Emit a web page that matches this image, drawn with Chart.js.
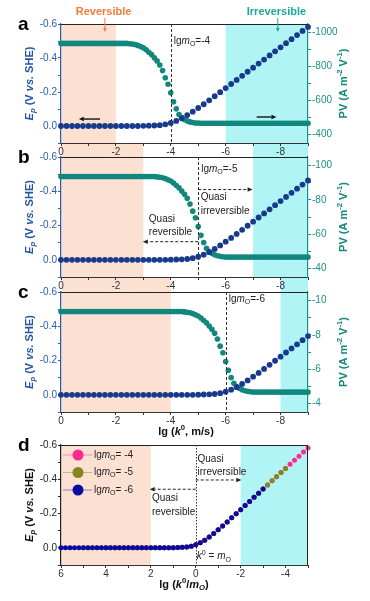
<!DOCTYPE html>
<html>
<head>
<meta charset="utf-8">
<script src="https://cdn.jsdelivr.net/npm/chart.js@4.4.0/dist/chart.umd.min.js"></script>
<style>
body { margin: 0; background: #fff; }
#wrap { position: relative; width: 370px; height: 601px; overflow: hidden; }
canvas { position: absolute; left: 0; }
</style>
</head>
<body>
<div id="wrap">
<canvas id="pa" width="370" height="163" style="top:0px;z-index:4"></canvas>
<canvas id="pb" width="370" height="157" style="top:140px;z-index:3"></canvas>
<canvas id="pc" width="370" height="171" style="top:275px;z-index:2"></canvas>
<canvas id="pd" width="370" height="166" style="top:435px;z-index:1"></canvas>
</div>
<script>
// lg k0 grid for Ep points (step 0.2) and PV points (step 0.1)
const lgK = [0, -0.2, -0.4, -0.6, -0.8, -1, -1.2, -1.4, -1.6, -1.8,
  -2, -2.2, -2.4, -2.6, -2.8, -3, -3.2, -3.4, -3.6, -3.8,
  -4, -4.2, -4.4, -4.6, -4.8, -5, -5.2, -5.4, -5.6, -5.8,
  -6, -6.2, -6.4, -6.6, -6.8, -7, -7.2, -7.4, -7.6, -7.8,
  -8, -8.2, -8.4, -8.6, -8.8, -9];
const lgKFine = [0, -0.1, -0.2, -0.3, -0.4, -0.5, -0.6, -0.7, -0.8, -0.9,
  -1, -1.1, -1.2, -1.3, -1.4, -1.5, -1.6, -1.7, -1.8, -1.9,
  -2, -2.1, -2.2, -2.3, -2.4, -2.5, -2.6, -2.7, -2.8, -2.9,
  -3, -3.1, -3.2, -3.3, -3.4, -3.5, -3.6, -3.7, -3.8, -3.9,
  -4, -4.1, -4.2, -4.3, -4.4, -4.5, -4.6, -4.7, -4.8, -4.9,
  -5, -5.1, -5.2, -5.3, -5.4, -5.5, -5.6, -5.7, -5.8, -5.9,
  -6, -6.1, -6.2, -6.3, -6.4, -6.5, -6.6, -6.7, -6.8, -6.9,
  -7, -7.1, -7.2, -7.3, -7.4, -7.5, -7.6, -7.7, -7.8, -7.9,
  -8, -8.1, -8.2, -8.3, -8.4, -8.5, -8.6, -8.7, -8.8, -8.9, -9];
const lgMO = [-4, -5, -6];

// Ep (V vs. SHE)
const epA = [0, 0, 0, 0, 0, 0, 0, 0, 0, 0, 0, 0, 0, 0, 0,
  -0.001, -0.002, -0.003, -0.005, -0.010, -0.018, -0.030, -0.045, -0.064, -0.084,
  -0.106, -0.128, -0.151, -0.175, -0.199, -0.223, -0.247, -0.271, -0.295, -0.319,
  -0.343, -0.367, -0.391, -0.415, -0.439, -0.463, -0.487, -0.511, -0.535, -0.559, -0.583];
const epB = [0, 0, 0, 0, 0, 0, 0, 0, 0, 0, 0, 0, 0, 0, 0, 0, 0, 0, 0, 0,
  -0.001, -0.002, -0.003, -0.005, -0.010, -0.018, -0.030, -0.045, -0.064, -0.084,
  -0.106, -0.128, -0.151, -0.175, -0.199, -0.223, -0.247, -0.271, -0.295, -0.319,
  -0.343, -0.367, -0.391, -0.415, -0.439, -0.463];
const epC = [0, 0, 0, 0, 0, 0, 0, 0, 0, 0, 0, 0, 0, 0, 0, 0, 0, 0, 0, 0, 0, 0, 0, 0, 0,
  -0.001, -0.002, -0.003, -0.005, -0.010, -0.018, -0.030, -0.045, -0.064, -0.084,
  -0.106, -0.128, -0.151, -0.175, -0.199, -0.223, -0.247, -0.271, -0.295, -0.319,
  -0.343];

// PV (A m-2 V-1)
const pvA = [-936, -936, -936, -936, -936, -936, -936, -936, -936, -936,
  -936, -936, -936, -936, -936, -936, -936, -936, -936, -936,
  -936, -936, -936, -936, -936,
  -934, -932, -929, -924, -917, -910, -898, -884, -870, -851,
  -833, -809, -776, -734, -696, -645, -593, -551, -518, -499,
  -488, -480, -474, -471, -468, -467, -466,
  -466, -466, -466, -466, -466, -466, -466, -466, -466, -466,
  -466, -466, -466, -466, -466, -466, -466, -466, -466, -466,
  -466, -466, -466, -466, -466, -466, -466, -466, -466, -466,
  -466, -466, -466, -466, -466, -466, -466, -466, -466];
const pvB = [-93.6, -93.6, -93.6, -93.6, -93.6, -93.6, -93.6, -93.6, -93.6, -93.6,
  -93.6, -93.6, -93.6, -93.6, -93.6, -93.6, -93.6, -93.6, -93.6, -93.6,
  -93.6, -93.6, -93.6, -93.6, -93.6, -93.6, -93.6, -93.6, -93.6, -93.6,
  -93.6, -93.6, -93.6, -93.6, -93.6,
  -93.4, -93.2, -92.9, -92.4, -91.7, -91.0, -89.8, -88.4, -87.0, -85.1,
  -83.3, -80.9, -77.6, -73.4, -69.6, -64.5, -59.3, -55.1, -51.8, -49.9,
  -48.8, -48.0, -47.4, -47.1, -46.8, -46.7, -46.6,
  -46.6, -46.6, -46.6, -46.6, -46.6, -46.6, -46.6, -46.6, -46.6, -46.6,
  -46.6, -46.6, -46.6, -46.6, -46.6, -46.6, -46.6, -46.6, -46.6, -46.6,
  -46.6, -46.6, -46.6, -46.6, -46.6, -46.6, -46.6, -46.6, -46.6];
const pvC = [-9.36, -9.36, -9.36, -9.36, -9.36, -9.36, -9.36, -9.36, -9.36, -9.36,
  -9.36, -9.36, -9.36, -9.36, -9.36, -9.36, -9.36, -9.36, -9.36, -9.36,
  -9.36, -9.36, -9.36, -9.36, -9.36, -9.36, -9.36, -9.36, -9.36, -9.36,
  -9.36, -9.36, -9.36, -9.36, -9.36, -9.36, -9.36, -9.36, -9.36, -9.36,
  -9.36, -9.36, -9.36, -9.36, -9.36,
  -9.34, -9.32, -9.29, -9.24, -9.17, -9.10, -8.98, -8.84, -8.70, -8.51,
  -8.33, -8.09, -7.76, -7.34, -6.96, -6.45, -5.93, -5.51, -5.18, -4.99,
  -4.88, -4.80, -4.74, -4.71, -4.68, -4.67, -4.66,
  -4.66, -4.66, -4.66, -4.66, -4.66, -4.66, -4.66, -4.66, -4.66, -4.66,
  -4.66, -4.66, -4.66, -4.66, -4.66, -4.66, -4.66, -4.66, -4.66];

// axis ticks
const epTicks = [-0.6, -0.5, -0.4, -0.3, -0.2, -0.1, 0, 0.1];
const kTicks = [0, -1, -2, -3, -4, -5, -6, -7, -8, -9];
const ratioTicks = [6, 5, 4, 3, 2, 1, 0, -1, -2, -3, -4, -5];
const pvTicksA = [-1000, -900, -800, -700, -600, -500, -400];
const pvTicksB = [-100, -90, -80, -70, -60, -50, -40];
const pvTicksC = [-10, -9, -8, -7, -6, -5, -4];

const FONT = '"Liberation Sans", Arial, sans-serif';
Chart.defaults.font.family = FONT;

const NAVY = '#173a8c', TEAL = '#11877d';
const AXBLUE = '#2a5caf', AXTEAL = '#1a9187';
const PEACH = '#fce1d3', CYAN = '#b0f4f6';

function rich(ctx, parts, x, y, size, color, align) {
  let w = 0;
  const m = parts.map(p => {
    const f = p[1] || '';
    const small = f.includes('d') || f.includes('u');
    const sz = small ? size * 0.7 : size;
    const font = (f.includes('I') ? 'italic ' : '') + (f.includes('B') ? 'bold ' : '') + sz + 'px ' + FONT;
    ctx.font = font;
    const pw = ctx.measureText(p[0]).width;
    w += pw;
    return { font, pw, dy: f.includes('d') ? size * 0.3 : f.includes('u') ? -size * 0.38 : 0 };
  });
  let cx = align === 'center' ? x - w / 2 : align === 'right' ? x - w : x;
  ctx.fillStyle = color;
  ctx.textBaseline = 'middle';
  ctx.textAlign = 'left';
  parts.forEach((p, i) => {
    ctx.font = m[i].font;
    ctx.fillText(p[0], cx, y + m[i].dy);
    cx += m[i].pw;
  });
}

function richV(ctx, parts, x, y, size, color) {
  ctx.save();
  ctx.translate(x, y);
  ctx.rotate(-Math.PI / 2);
  rich(ctx, parts, 0, 0, size, color, 'center');
  ctx.restore();
}

function arrow(ctx, x1, y1, x2, y2, color, dash, head, lw) {
  ctx.save();
  ctx.strokeStyle = color;
  ctx.fillStyle = color;
  ctx.lineWidth = lw || 1;
  ctx.setLineDash(dash || []);
  const a = Math.atan2(y2 - y1, x2 - x1);
  const hx = x2 - head * Math.cos(a), hy = y2 - head * Math.sin(a);
  ctx.beginPath();
  ctx.moveTo(x1, y1);
  ctx.lineTo(hx, hy);
  ctx.stroke();
  ctx.setLineDash([]);
  ctx.beginPath();
  ctx.moveTo(x2, y2);
  ctx.lineTo(hx - head * 0.45 * Math.sin(a), hy + head * 0.45 * Math.cos(a));
  ctx.lineTo(hx + head * 0.45 * Math.sin(a), hy - head * 0.45 * Math.cos(a));
  ctx.closePath();
  ctx.fill();
  ctx.restore();
}

function vdash(c, xv, dash) {
  const ctx = c.ctx, a = c.chartArea;
  const px = Math.round(c.scales.x.getPixelForValue(xv)) + 0.5;
  ctx.save();
  ctx.strokeStyle = '#333';
  ctx.lineWidth = 1;
  ctx.setLineDash(dash);
  ctx.beginPath();
  ctx.moveTo(px, a.top);
  ctx.lineTo(px, a.bottom);
  ctx.stroke();
  ctx.restore();
}

function makePanel(o) {
  const leftCol = o.pv ? AXBLUE : '#222';
  const scales = {
    x: {
      type: 'linear', min: o.xMin, max: o.xMax, reverse: true,
      afterBuildTicks: s => { s.ticks = o.xTicks.map(v => ({ value: v })); },
      afterFit: s => { s.height = 20; },
      ticks: {
        color: '#333', font: { size: 10 }, padding: 0, autoSkip: false, maxRotation: 0,
        callback: v => (v % 2 === 0 ? String(v) : '')
      },
      grid: { drawOnChartArea: false, tickLength: 3, color: '#333' },
      border: { color: '#333', width: 1 }
    },
    y: {
      type: 'linear', position: 'left', min: -0.6, max: 0.1, reverse: true,
      afterBuildTicks: s => { s.ticks = epTicks.map(v => ({ value: v })); },
      afterFit: s => { s.width = 61; },
      ticks: {
        color: leftCol, font: { size: 10 }, padding: 1,
        callback: v => { const k = Math.round(v * 10); return (k % 2 === 0 && k <= 0) ? v.toFixed(1) : ''; }
      },
      grid: { drawOnChartArea: false, tickLength: 3, color: leftCol },
      border: { color: leftCol, width: 1.2 }
    }
  };
  if (o.pv) {
    scales.y2 = {
      type: 'linear', position: 'right', min: o.pvMin, max: o.pvMax, reverse: true,
      afterBuildTicks: s => { s.ticks = o.pvTicks.map(v => ({ value: v })); },
      afterFit: s => { s.width = 62; },
      ticks: {
        color: AXTEAL, font: { size: 10 }, padding: 1,
        callback: v => (Math.round(v / o.pvStep) % 2 === 0 ? String(v) : '')
      },
      grid: { drawOnChartArea: false, tickLength: 3, color: AXTEAL },
      border: { color: AXTEAL, width: 1.2 }
    };
  }
  const datasets = o.sets.map(s => ({
    data: s.x.map((x, i) => ({ x: x, y: s.y[i] })),
    yAxisID: s.axis,
    backgroundColor: s.color,
    borderWidth: 0,
    pointRadius: s.r,
    clip: 6
  }));
  new Chart(document.getElementById(o.id), {
    type: 'scatter',
    data: { datasets },
    options: {
      responsive: false, animation: false, events: [],
      layout: { padding: { top: o.padTop, left: 0, right: o.pv ? 0 : 62, bottom: o.padBottom || 0 } },
      scales,
      plugins: { legend: { display: false }, tooltip: { enabled: false } }
    },
    plugins: [{
      id: 'bands',
      beforeDraw(c) {
        const ctx = c.ctx, a = c.chartArea, xs = c.scales.x;
        o.bands.forEach(b => {
          const x1 = xs.getPixelForValue(b[0]), x2 = xs.getPixelForValue(b[1]);
          ctx.fillStyle = b[2];
          ctx.fillRect(Math.min(x1, x2), a.top - (o.bandExt || 0), Math.abs(x2 - x1), a.bottom - a.top + (o.bandExt || 0));
        });
      }
    }, {
      id: 'deco',
      afterDraw(c) {
        const ctx = c.ctx, a = c.chartArea;
        ctx.save();
        ctx.strokeStyle = '#222';
        ctx.lineWidth = 1;
        ctx.beginPath();
        ctx.moveTo(a.left, a.top + 0.5);
        ctx.lineTo(a.right, a.top + 0.5);
        if (!o.pv) { ctx.moveTo(a.right - 0.5, a.top); ctx.lineTo(a.right - 0.5, a.bottom); }
        ctx.stroke();
        ctx.restore();
        const mid = (a.top + a.bottom) / 2;
        richV(ctx, [['E', 'BI'], ['p', 'BId'], [' (V ', 'B'], ['vs.', 'BI'], [' SHE)', 'B']], 30, mid, 11, o.pv ? '#2456a8' : '#111');
        if (o.pv) {
          richV(ctx, [['PV (A m', 'B'], ['-2', 'Bu'], [' V', 'B'], ['-1', 'Bu'], [')', 'B']], 344, mid, 11, '#14897f');
        }
        rich(ctx, [[o.letter, 'B']], 18, a.top + 1, 19, '#000', 'left');
        o.extra(c, ctx, v => c.scales.x.getPixelForValue(v), v => c.scales.y.getPixelForValue(v));
      }
    }]
  });
}

function mLabel(ctx, X, Y, xv, yv, val) {
  rich(ctx, [['lg', ''], ['m', 'I'], ['O', 'd'], ['=' + val, '']], X(xv) + 3, Y(yv), 10, '#222', 'left');
}

makePanel({
  id: 'pa', letter: 'a', padTop: 24, xMin: -9, xMax: 0, xTicks: kTicks,
  pv: true, pvMin: -1050, pvMax: -350, pvTicks: pvTicksA, pvStep: 100,
  bands: [[0, -2, PEACH], [-6, -9, CYAN]],
  sets: [
    { x: lgK, y: epA, color: NAVY, axis: 'y', r: 2.9 },
    { x: lgKFine, y: pvA, color: TEAL, axis: 'y2', r: 2.8 }
  ],
  extra(c, ctx, X, Y) {
    vdash(c, lgMO[0], [3, 2]);
    mLabel(ctx, X, Y, lgMO[0], -0.5, lgMO[0]);
    rich(ctx, [['Reversible', 'B']], X(-1.55), 12, 11, '#f47a3a', 'center');
    rich(ctx, [['Irreversible', 'B']], X(-7.85), 12, 11, '#1aa89c', 'center');
    arrow(ctx, X(-1.6), 18, X(-1.6), 32, '#f47a3a', [], 4, 1);
    arrow(ctx, X(-7.9), 18, X(-7.9), 32, '#1aa89c', [], 4, 1);
    arrow(ctx, X(-1.42), Y(-0.041), X(-0.65), Y(-0.041), '#111', [], 5, 1.4);
    arrow(ctx, X(-7.13), Y(-0.053), X(-7.85), Y(-0.053), '#111', [], 5, 1.4);
  }
});

makePanel({
  id: 'pb', letter: 'b', padTop: 17, bandExt: 13, xMin: -9, xMax: 0, xTicks: kTicks,
  pv: true, pvMin: -105, pvMax: -35, pvTicks: pvTicksB, pvStep: 10,
  bands: [[0, -3, PEACH], [-7, -9, CYAN]],
  sets: [
    { x: lgK, y: epB, color: NAVY, axis: 'y', r: 2.9 },
    { x: lgKFine, y: pvB, color: TEAL, axis: 'y2', r: 2.8 }
  ],
  extra(c, ctx, X, Y) {
    vdash(c, lgMO[1], [3, 2]);
    mLabel(ctx, X, Y, lgMO[1], -0.53, lgMO[1]);
    arrow(ctx, X(-5), Y(-0.41), X(-6.98), Y(-0.41), '#222', [3, 2], 5, 1);
    arrow(ctx, X(-5), Y(-0.106), X(-2.98), Y(-0.106), '#222', [3, 2], 5, 1);
    rich(ctx, [['Quasi', '']], X(-5.09), Y(-0.365), 10, '#222', 'left');
    rich(ctx, [['irreversible', '']], X(-5.09), Y(-0.285), 10, '#222', 'left');
    rich(ctx, [['Quasi', '']], X(-3.2), Y(-0.238), 10, '#222', 'left');
    rich(ctx, [['reversible', '']], X(-3.2), Y(-0.16), 10, '#222', 'left');
  }
});

makePanel({
  id: 'pc', letter: 'c', padTop: 17, padBottom: 14, bandExt: 14, xMin: -9, xMax: 0, xTicks: kTicks,
  pv: true, pvMin: -10.5, pvMax: -3.5, pvTicks: pvTicksC, pvStep: 1,
  bands: [[0, -4, PEACH], [-8, -9, CYAN]],
  sets: [
    { x: lgK, y: epC, color: NAVY, axis: 'y', r: 2.9 },
    { x: lgKFine, y: pvC, color: TEAL, axis: 'y2', r: 2.8 }
  ],
  extra(c, ctx, X, Y) {
    vdash(c, lgMO[2], [3, 2]);
    mLabel(ctx, X, Y, lgMO[2], -0.56, lgMO[2]);
    rich(ctx, [['lg (', 'B'], ['k', 'BI'], ['0', 'Bu'], [', m/s)', 'B']], 186, c.chartArea.bottom + 20, 11, '#111', 'center');
  }
});

const PINK = '#ff2a8c', OLIVE = '#86861c', BLUE = '#0a0aa0';
// the first dataset is painted on top, so lgmO=-6 goes first
makePanel({
  id: 'pd', letter: 'd', padTop: 10, padBottom: 16, xMin: -5, xMax: 6, xTicks: ratioTicks,
  pv: false,
  bands: [[6, 2, PEACH], [-2, -5, CYAN]],
  sets: [
    { x: lgK.map(v => v - lgMO[2]), y: epC, color: BLUE, axis: 'y', r: 2.5 },
    { x: lgK.map(v => v - lgMO[1]), y: epB, color: OLIVE, axis: 'y', r: 2.5 },
    { x: lgK.map(v => v - lgMO[0]), y: epA, color: PINK, axis: 'y', r: 2.5 }
  ],
  extra(c, ctx, X, Y) {
    vdash(c, 0, [1.5, 1.5]);
    arrow(ctx, X(0), Y(-0.396), X(-2.03), Y(-0.396), '#222', [3, 2], 5, 1);
    arrow(ctx, X(0), Y(-0.342), X(2.05), Y(-0.342), '#222', [3, 2], 5, 1);
    rich(ctx, [['Quasi', '']], X(-0.08), Y(-0.517), 10, '#222', 'left');
    rich(ctx, [['irreversible', '']], X(-0.08), Y(-0.44), 10, '#222', 'left');
    rich(ctx, [['Quasi', '']], X(1.95), Y(-0.29), 10, '#222', 'left');
    rich(ctx, [['reversible', '']], X(1.95), Y(-0.207), 10, '#222', 'left');
    rich(ctx, [['k', 'I'], ['0', 'u'], [' = ', ''], ['m', 'I'], ['O', 'd']], X(-0.05), Y(0.051), 10, '#222', 'left');
    // legend
    const items = [[PINK, lgMO[0]], [OLIVE, lgMO[1]], [BLUE, lgMO[2]]];
    const a = c.chartArea;
    items.forEach((it, i) => {
      const ly = a.top + 10 + i * 17.5;
      ctx.save();
      ctx.globalAlpha = 0.45;
      ctx.strokeStyle = it[0];
      ctx.lineWidth = 1;
      ctx.beginPath();
      ctx.moveTo(a.left + 2, ly);
      ctx.lineTo(a.left + 31, ly);
      ctx.stroke();
      ctx.restore();
      ctx.fillStyle = it[0];
      ctx.beginPath();
      ctx.arc(a.left + 17, ly, 5.5, 0, Math.PI * 2);
      ctx.fill();
      rich(ctx, [['lg', ''], ['m', 'I'], ['O', 'd'], ['= ' + it[1], '']], a.left + 33, ly, 10, '#222', 'left');
    });
    rich(ctx, [['lg (', 'B'], ['k', 'BI'], ['0', 'Bu'], ['/', 'B'], ['m', 'BI'], ['O', 'BId'], [')', 'B']], 184, a.bottom + 20, 11, '#111', 'center');
  }
});
</script>
</body>
</html>
